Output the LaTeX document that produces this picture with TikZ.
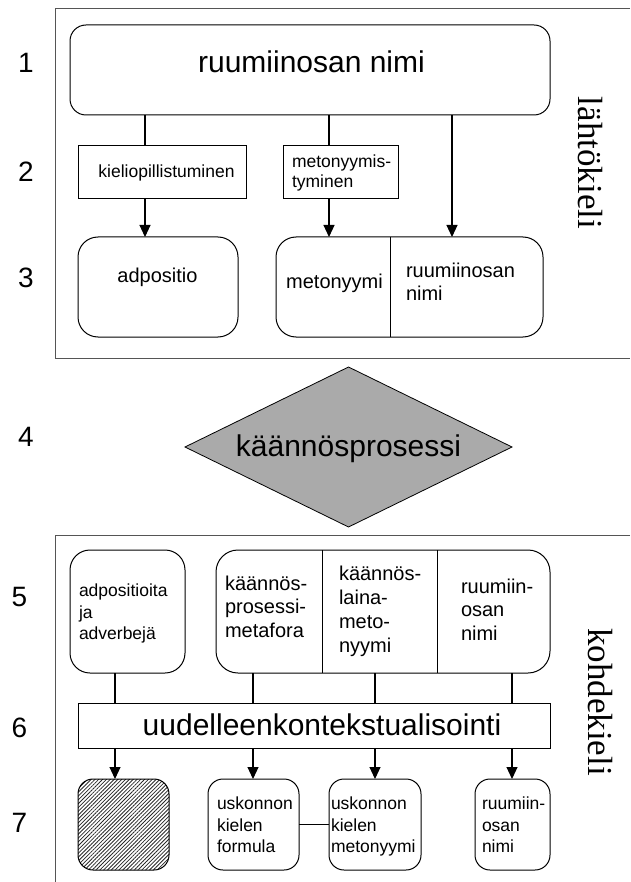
\documentclass[tikz,border=0pt]{standalone}
\usepackage{fontspec}
\setmainfont{Liberation Sans}
\newfontfamily\seriffam{Liberation Serif}
\usetikzlibrary{arrows.meta,shapes.geometric,patterns.meta}
\definecolor{diagray}{RGB}{170,170,170}
\definecolor{framegray}{RGB}{85,85,85}
\definecolor{hatchgray}{RGB}{40,40,40}
\begin{document}
\begin{tikzpicture}[x=1pt,y=-1pt,
  every node/.style={inner sep=0pt, outer sep=0pt},
  rbx/.style={draw=black, line width=1pt, rounded corners=#1},
  sqbx/.style={draw=black, line width=1pt},
  conn/.style={line width=1.1pt},
  arr/.style={line width=1.1pt, -{Triangle[length=12pt,width=11pt]}},
  fbig/.style={font=\fontsize{30}{34}\selectfont},
  fmid/.style={font=\fontsize{20}{23.5}\selectfont},
  fsm/.style={font=\fontsize{17.5}{21.5}\selectfont},
  multi/.style={anchor=north west, align=left},
  lbl/.style={font=\fontsize{28}{32}\selectfont},
  side/.style={font=\seriffam\fontsize{35}{40}\selectfont, rotate=-90},
  frame/.style={draw=framegray, line width=1pt},
  hatch/.style={pattern={Lines[angle=45,distance=2.7pt,line width=0.8pt]}, pattern color=hatchgray}
]
\useasboundingbox (0,0) rectangle (630,882);

% frames
\draw[frame] (630,9) -- (55,9) -- (55,358) -- (630,358);
\draw[frame] (630,535) -- (55,535) -- (55,882);

% row labels
\node[lbl] (n1) at (26,63) {1};
\node[lbl] (n2) at (26,172) {2};
\node[lbl] (n3) at (26,278) {3};
\node[lbl] (n4) at (26,437) {4};
\node[lbl] (n5) at (19.5,597) {5};
\node[lbl] (n6) at (19.5,728) {6};
\node[lbl] (n7) at (19.5,823) {7};

% side labels
\node[side] (srcl) at (590.5,163) {lähtökieli};
\node[side] (tgtl) at (600,702) {kohdekieli};

% row 1
\node[rbx=16pt, minimum width=480pt, minimum height=90pt] (src) at (310,70) {};
\node[fbig, anchor=base] (srct) at (311.5,73) {ruumiinosan nimi};

% row 2
\node[sqbx, minimum width=168pt, minimum height=53pt] (gram) at (162,172.5) {};
\node[fsm, anchor=base] (gramt) at (166.5,177.5) {kieliopillistuminen};
\node[sqbx, minimum width=115pt, minimum height=53pt] (meto) at (340.5,172.5) {};
\node[multi, font=\fontsize{17.5}{20}\selectfont] (metot) at (292,153.5) {\strut metonyymis-\\\strut tyminen};

% row 3
\node[rbx=20pt, minimum width=160pt, minimum height=100pt] (adp) at (158,287) {};
\node[fmid, anchor=base] (adpt) at (157.5,283) {adpositio};
\node[rbx=20pt, minimum width=267pt, minimum height=100pt] (pair) at (409.5,287) {};
\coordinate (pdiv) at (390,0);
\draw[line width=0.9pt] (pair.north -| pdiv) -- (pair.south -| pdiv);
\node[fmid, anchor=base] (pairm) at (334.5,288) {metonyymi};
\node[multi, font=\fontsize{20}{23}\selectfont] (pairr) at (406,260.9) {\strut ruumiinosan\\\strut nimi};

% connectors rows 1-3
\coordinate (xa) at (145,0);
\coordinate (xb) at (329,0);
\coordinate (xc) at (452,0);
\draw[conn] (src.south -| xa) -- (gram.north -| xa);
\draw[arr] (gram.south -| xa) -- (adp.north -| xa);
\draw[conn] (src.south -| xb) -- (meto.north -| xb);
\draw[arr] (meto.south -| xb) -- (pair.north -| xb);
\draw[arr] (src.south -| xc) -- (pair.north -| xc);

% row 4
\node[diamond, draw=black, line width=0.8pt, fill=diagray, aspect=2.04,
      minimum width=327pt, minimum height=160pt] (proc) at (348.5,447) {};
\node[fbig, anchor=base] (proct) at (348.5,456) {käännösprosessi};

% row 5
\node[rbx=20pt, minimum width=115pt, minimum height=123pt] (advb) at (127.5,611.5) {};
\node[multi, font=\fontsize{17.5}{21.5}\selectfont] (advbt) at (79,581.45) {\strut adpositioita\\\strut ja\\\strut adverbejä};
\node[rbx=22pt, minimum width=334pt, minimum height=123pt] (tri) at (383,611.5) {};
\coordinate (tda) at (322,0);
\coordinate (tdb) at (437,0);
\draw[line width=0.9pt] (tri.north -| tda) -- (tri.south -| tda);
\draw[line width=0.9pt] (tri.north -| tdb) -- (tri.south -| tdb);
\node[multi, font=\fontsize{20}{23.5}\selectfont] (tria) at (225,573.55) {\strut käännös-\\\strut prosessi-\\\strut metafora};
\node[multi, font=\fontsize{20}{24}\selectfont] (trib) at (339,563.2) {\strut käännös-\\\strut laina-\\\strut meto-\\\strut nyymi};
\node[multi, font=\fontsize{20}{23.5}\selectfont] (tric) at (461,576.55) {\strut ruumiin-\\\strut osan\\\strut nimi};

% row 6
\node[sqbx, minimum width=472pt, minimum height=45pt] (ctx) at (314,725.5) {};
\node[fbig, anchor=base] (ctxt) at (322,735) {uudelleenkontekstualisointi};

% row 7
\node[rbx=15pt, hatch, minimum width=91pt, minimum height=91pt] (empty) at (123.5,824.5) {};
\node[rbx=15pt, minimum width=91pt, minimum height=91pt] (form) at (253.5,824.5) {};
\node[multi, font=\fontsize{17.5}{21.5}\selectfont] (formt) at (217,794.45) {\strut uskonnon\\\strut kielen\\\strut formula};
\node[rbx=15pt, minimum width=92pt, minimum height=91pt] (rmet) at (375,824.5) {};
\node[multi, font=\fontsize{17.5}{21.5}\selectfont] (rmett) at (331,794.45) {\strut uskonnon\\\strut kielen\\\strut metonyymi};
\node[rbx=15pt, minimum width=75pt, minimum height=91pt] (body) at (512.5,824.5) {};
\node[multi, font=\fontsize{17.5}{21.5}\selectfont] (bodyt) at (482,794.45) {\strut ruumiin-\\\strut osan\\\strut nimi};
\draw[conn] (form.east) -- (rmet.west);

% connectors rows 5-7
\coordinate (ya) at (115,0);
\coordinate (yb) at (253,0);
\coordinate (yc) at (375,0);
\coordinate (yd) at (512,0);
\draw[conn] (advb.south -| ya) -- (ctx.north -| ya);
\draw[conn] (tri.south -| yb) -- (ctx.north -| yb);
\draw[conn] (tri.south -| yc) -- (ctx.north -| yc);
\draw[conn] (tri.south -| yd) -- (ctx.north -| yd);
\draw[arr] (ctx.south -| ya) -- (empty.north -| ya);
\draw[arr] (ctx.south -| yb) -- (form.north -| yb);
\draw[arr] (ctx.south -| yc) -- (rmet.north -| yc);
\draw[arr] (ctx.south -| yd) -- (body.north -| yd);
\end{tikzpicture}
\end{document}
